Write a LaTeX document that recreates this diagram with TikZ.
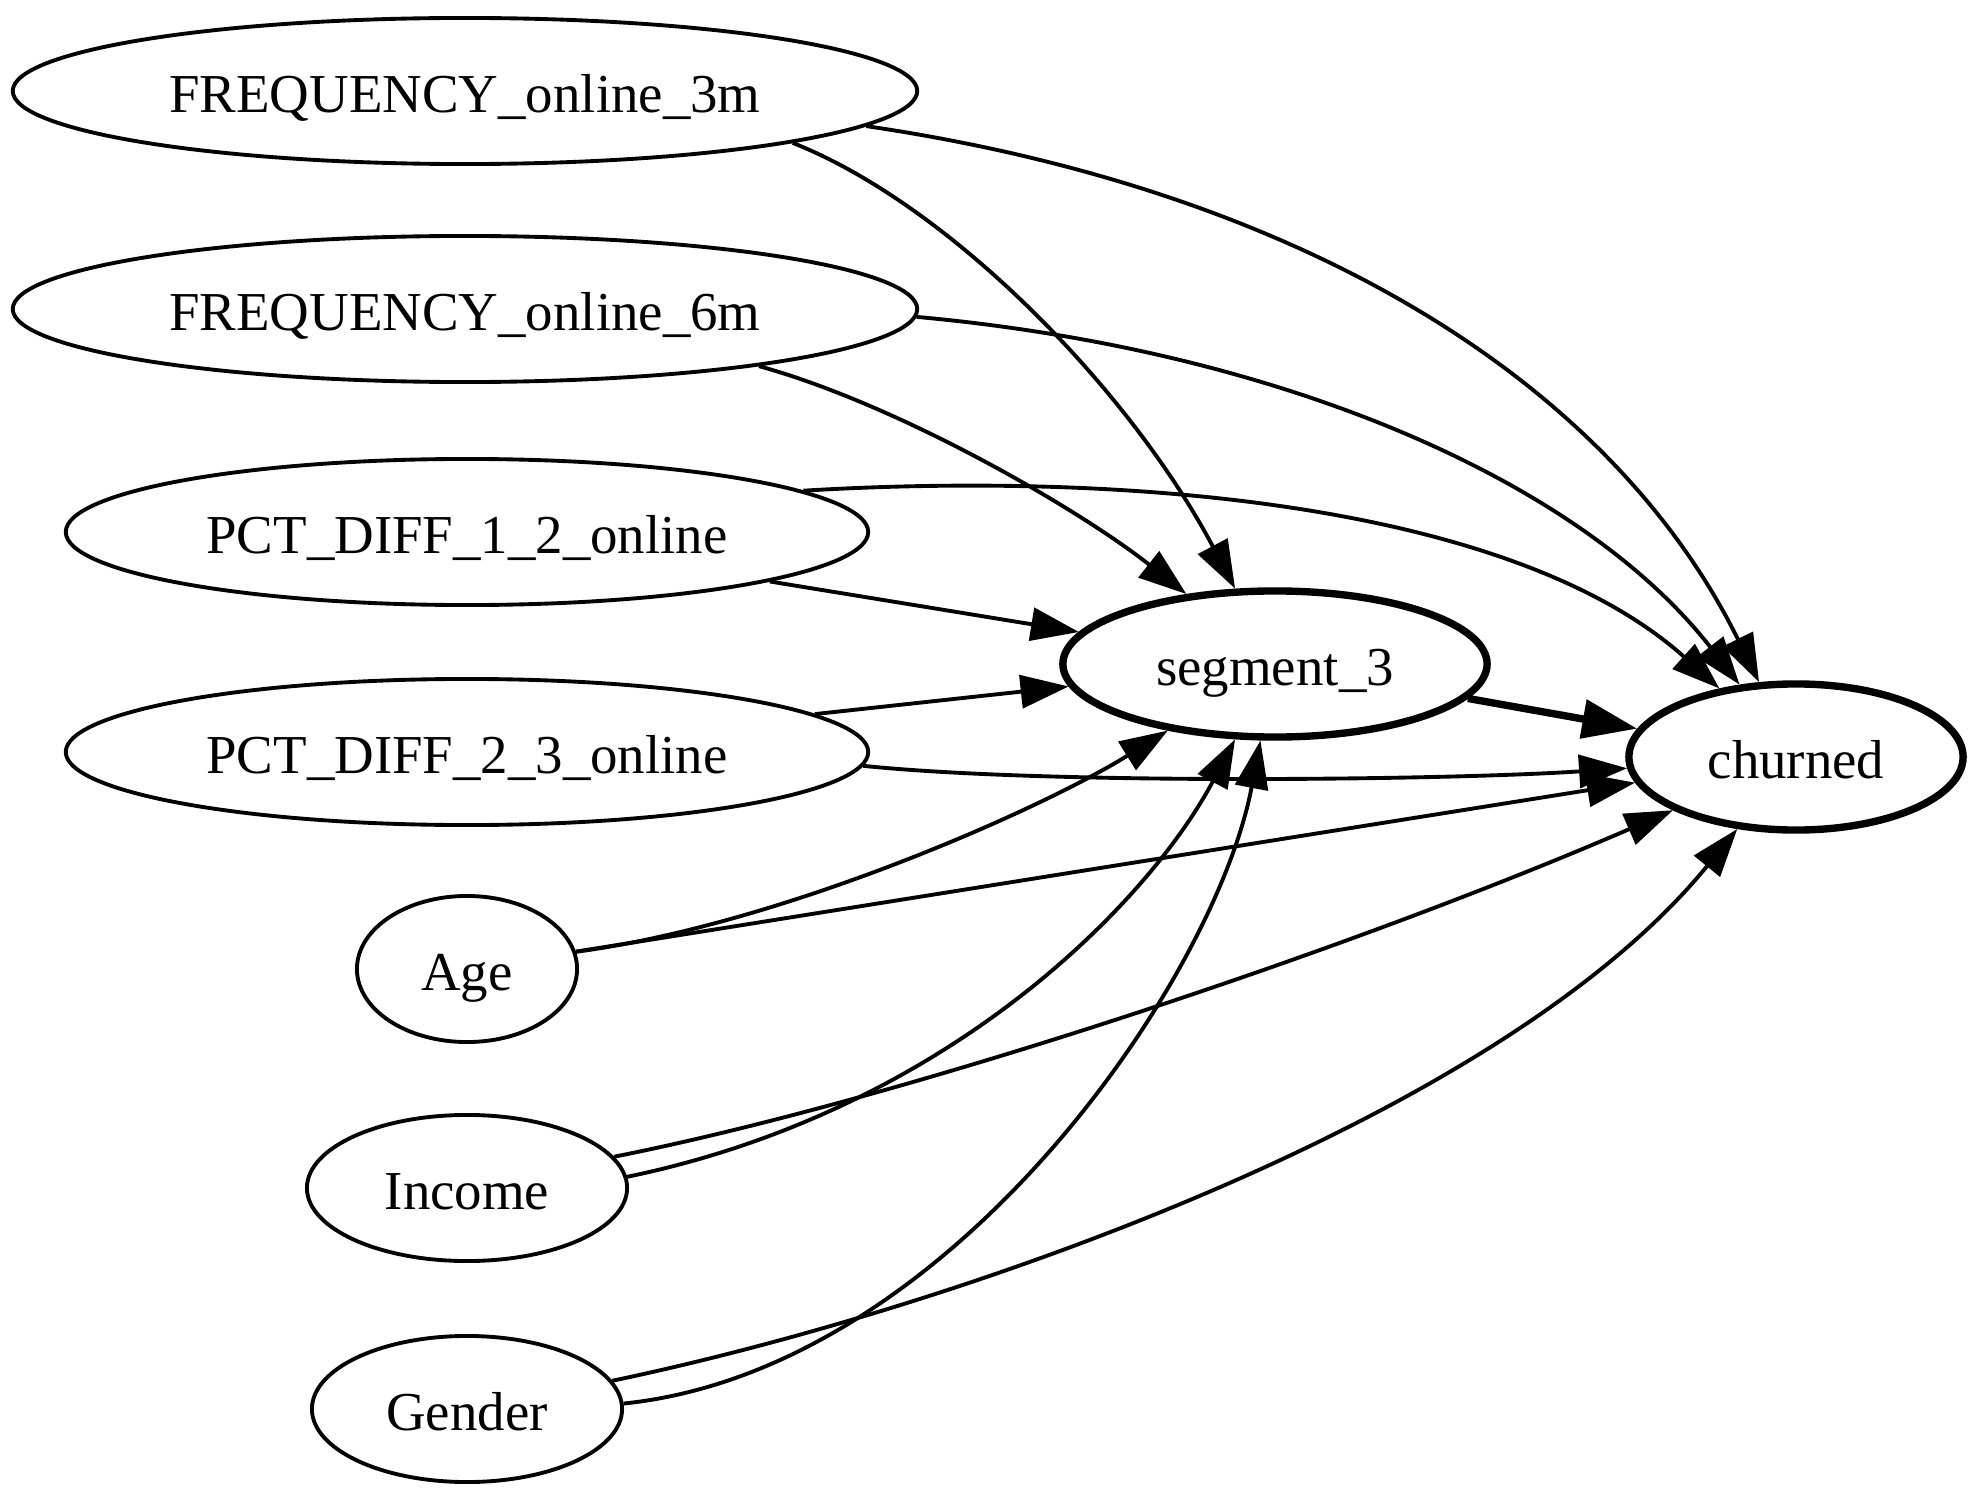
\documentclass[tikz,border=0pt]{standalone}
\usepackage{fontspec}
\setmainfont{Liberation Serif}
\usetikzlibrary{shapes.geometric,arrows.meta}
\tikzset{
  var/.style={draw, ellipse, line width=1.1pt, minimum height=1.46cm, inner sep=0pt,
    font=\fontsize{15.6pt}{18pt}\selectfont, text height=0.6cm, text depth=0.18cm},
  mainvar/.style={var, line width=2.1pt},
  link/.style={line width=1.1pt, -{Triangle[length=0.48cm,width=0.33cm]}},
  boldlink/.style={line width=2.1pt, -{Triangle[length=0.55cm,width=0.38cm]}}
}
\begin{document}
\begin{tikzpicture}[x=0.01cm, y=-0.01cm]
\useasboundingbox (0,0) rectangle (1978,1500);

% features
\node[var, minimum width=9.04cm] (f3m) at (465,91) {FREQUENCY\_online\_3m};
\node[var, minimum width=9.04cm] (f6m) at (465,309) {FREQUENCY\_online\_6m};
\node[var, minimum width=8.02cm] (p12) at (467,532) {PCT\_DIFF\_1\_2\_online};
\node[var, minimum width=8.02cm] (p23) at (467,752) {PCT\_DIFF\_2\_3\_online};
\node[var, minimum width=2.2cm] (age) at (467,969) {Age};
\node[var, minimum width=3.2cm] (income) at (467,1188) {Income};
\node[var, minimum width=3.1cm] (gender) at (467,1409) {Gender};

% segment and target
\node[mainvar, minimum width=4.24cm] (seg) at (1275,664) {segment\_3};
\node[mainvar, minimum width=3.34cm] (churned) at (1796,757) {churned};

% edges into segment_3 and churned
\draw[link] (f3m.-9) .. controls (950,205) and (1130,390) .. (seg);
\draw[link] (f3m.-5) .. controls (1300,190) and (1610,380) .. (churned);
\draw[link] (f6m.-11) .. controls (900,405) and (1080,510) .. (seg);
\draw[link] (f6m.-1) .. controls (1280,350) and (1580,480) .. (churned);
\draw[link] (p12) -- (seg);
\draw[link] (p12.7) .. controls (1150,470) and (1520,510) .. (churned);
\draw[link] (p23) -- (seg);
\draw[link] (p23.-2) .. controls (1050,785) and (1450,780) .. (churned);
\draw[link] (age.9) .. controls (780,925) and (1040,810) .. (seg);
\draw[link] (age) -- (churned);
\draw[link] (income.4) .. controls (950,1110) and (1150,900) .. (seg);
\draw[link] (income.12) .. controls (900,1100) and (1350,950) .. (churned);
\draw[link] (gender.2) .. controls (950,1370) and (1215,980) .. (seg);
\draw[link] (gender.11) .. controls (950,1310) and (1500,1120) .. (churned);
\draw[boldlink] (seg) -- (churned);
\end{tikzpicture}
\end{document}
